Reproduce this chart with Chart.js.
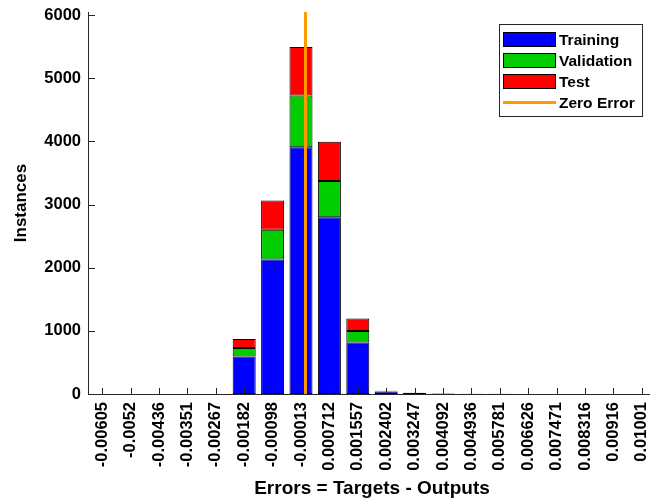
<!DOCTYPE html>
<html>
<head>
<meta charset="utf-8">
<title>Error Histogram</title>
<script src="https://cdn.jsdelivr.net/npm/chart.js@4.4.0/dist/chart.umd.min.js"></script>
<style>
    html, body { margin: 0; padding: 0; background: #fff; overflow: hidden; }
</style>
</head>
<body>
<canvas id="errorHistogram" width="656" height="502"></canvas>
<script>
// Bin centres (as printed on the x axis)
const binLabels = ['-0.00605', '-0.0052', '-0.00436', '-0.00351', '-0.00267', '-0.00182',
    '-0.00098', '-0.00013', '0.000712', '0.001557', '0.002402', '0.003247', '0.004092',
    '0.004936', '0.005781', '0.006626', '0.007471', '0.008316', '0.00916', '0.01001'];

// Instances per bin
const trainingCounts   = [0, 0, 0, 0, 0, 592, 2130, 3906, 2801, 814, 38, 14, 6, 3, 2, 0, 0, 0, 0, 0];
const validationCounts = [0, 0, 0, 0, 0, 138, 471, 820, 572, 185, 7, 3, 1, 1, 0, 0, 0, 0, 0, 0];
const testCounts       = [0, 0, 0, 0, 0, 142, 465, 771, 624, 195, 6, 3, 1, 0, 0, 0, 0, 0, 0, 0];

const yTicks = [0, 1000, 2000, 3000, 4000, 5000, 6000];
const yMax = 6050;
const zeroError = 0;

const FONT = "'Liberation Sans', Arial, sans-serif";
const AXIS_COLOR = '#262626';

// numeric axis that lines up with the category bins, used for the zero line
const binCenters = binLabels.map(Number);
const binWidth = (binCenters[binCenters.length - 1] - binCenters[0]) / (binCenters.length - 1);

// MATLAB style inward tick marks
const innerTicks = {
    id: 'innerTicks',
    afterDatasetsDraw(chart) {
        const ctx = chart.ctx;
        const xs = chart.scales.x, ys = chart.scales.y;
        const area = chart.chartArea;
        ctx.save();
        ctx.strokeStyle = AXIS_COLOR;
        ctx.lineWidth = 1;
        ctx.beginPath();
        xs.ticks.forEach((t, i) => {
            const px = Math.round(xs.getPixelForTick(i)) + 0.5;
            ctx.moveTo(px, area.bottom);
            ctx.lineTo(px, area.bottom - 6);
        });
        ys.ticks.forEach((t, i) => {
            const py = Math.round(ys.getPixelForTick(i)) + 0.5;
            ctx.moveTo(area.left, py);
            ctx.lineTo(area.left + 7, py);
        });
        ctx.stroke();
        ctx.restore();
    }
};

// boxed legend inside the plot, top right
const boxLegend = {
    id: 'boxLegend',
    afterDraw(chart) {
        const ctx = chart.ctx;
        const area = chart.chartArea;
        const w = 143, h = 92;
        const x = area.right - 14 - w;
        const y = area.top + 12;
        ctx.save();
        ctx.fillStyle = '#fff';
        ctx.fillRect(x, y, w, h);
        ctx.strokeStyle = AXIS_COLOR;
        ctx.lineWidth = 1;
        ctx.strokeRect(x + 0.5, y + 0.5, w, h);

        ctx.font = 'bold 15.5px ' + FONT;
        ctx.textBaseline = 'middle';
        chart.data.datasets.forEach((ds, i) => {
            const cy = y + 15.5 + i * 21;
            if (ds.type === 'line') {
                ctx.strokeStyle = ds.borderColor;
                ctx.lineWidth = 3;
                ctx.beginPath();
                ctx.moveTo(x + 4, cy);
                ctx.lineTo(x + 57, cy);
                ctx.stroke();
            } else {
                ctx.fillStyle = ds.backgroundColor;
                ctx.fillRect(x + 4, cy - 7.5, 53, 15);
                ctx.strokeStyle = '#000';
                ctx.lineWidth = 1;
                ctx.strokeRect(x + 4.5, cy - 7, 52, 14);
            }
            ctx.fillStyle = '#000';
            ctx.fillText(ds.label, x + 60, cy + 1);
        });
        ctx.restore();
    }
};

const barStyle = {
    stack: 'bins',
    grouped: false,
    borderColor: '#000',
    borderWidth: 1,
    borderSkipped: false,
    barPercentage: 0.81,
    categoryPercentage: 1.0,
    order: 1
};

const noPad = s => {
    s.paddingLeft = 0;
    s.paddingRight = 0;
    s.paddingTop = 0;
    s.paddingBottom = 0;
};

new Chart(document.getElementById('errorHistogram'), {
    type: 'bar',
    data: {
        labels: binLabels,
        datasets: [
            Object.assign({ label: 'Training', data: trainingCounts, backgroundColor: '#0000ff' }, barStyle),
            Object.assign({ label: 'Validation', data: validationCounts, backgroundColor: '#00cc00' }, barStyle),
            Object.assign({ label: 'Test', data: testCounts, backgroundColor: '#ff0000' }, barStyle),
            {
                type: 'line',
                label: 'Zero Error',
                data: [{ x: zeroError, y: 0 }, { x: zeroError, y: yMax }],
                xAxisID: 'x2',
                stack: 'zero',
                borderColor: '#ff9900',
                borderWidth: 3,
                pointRadius: 0,
                fill: false,
                order: 0
            }
        ]
    },
    options: {
        responsive: false,
        animation: false,
        layout: { padding: { top: 12, left: 0, right: 0, bottom: 0 } },
        plugins: {
            legend: { display: false },
            tooltip: { enabled: false }
        },
        scales: {
            x: {
                stacked: true,
                offset: true,
                grid: { display: false, drawTicks: false },
                border: { display: true, color: AXIS_COLOR, width: 1 },
                ticks: {
                    autoSkip: false,
                    maxRotation: 90,
                    minRotation: 90,
                    padding: 8,
                    color: '#000',
                    font: { family: FONT, size: 16.5, weight: 'bold' }
                },
                title: {
                    display: true,
                    text: 'Errors = Targets - Outputs',
                    color: '#000',
                    padding: { top: 0, bottom: 2 },
                    font: { family: FONT, size: 19, weight: 'bold' }
                },
                afterFit: s => { noPad(s); s.height = 108; }
            },
            x2: {
                type: 'linear',
                position: 'top',
                bounds: 'data',
                offset: false,
                min: binCenters[0] - binWidth / 2,
                max: binCenters[binCenters.length - 1] + binWidth / 2,
                grid: { display: false, drawTicks: false, offset: false },
                border: { display: false },
                ticks: { display: false },
                afterFit: s => { noPad(s); s.height = 0; }
            },
            y: {
                stacked: true,
                min: 0,
                max: yMax,
                grid: { display: false, drawTicks: false },
                border: { display: true, color: AXIS_COLOR, width: 1 },
                afterBuildTicks: s => { s.ticks = yTicks.map(v => ({ value: v })); },
                ticks: {
                    padding: 7,
                    color: '#000',
                    font: { family: FONT, size: 16.5, weight: 'bold' },
                    callback: v => String(v)
                },
                title: {
                    display: true,
                    text: 'Instances',
                    color: '#000',
                    padding: { top: 11, bottom: 0 },
                    font: { family: FONT, size: 17, weight: 'bold' }
                },
                afterFit: s => { noPad(s); s.width = 88; }
            }
        }
    },
    plugins: [innerTicks, boxLegend]
});
</script>
</body>
</html>
